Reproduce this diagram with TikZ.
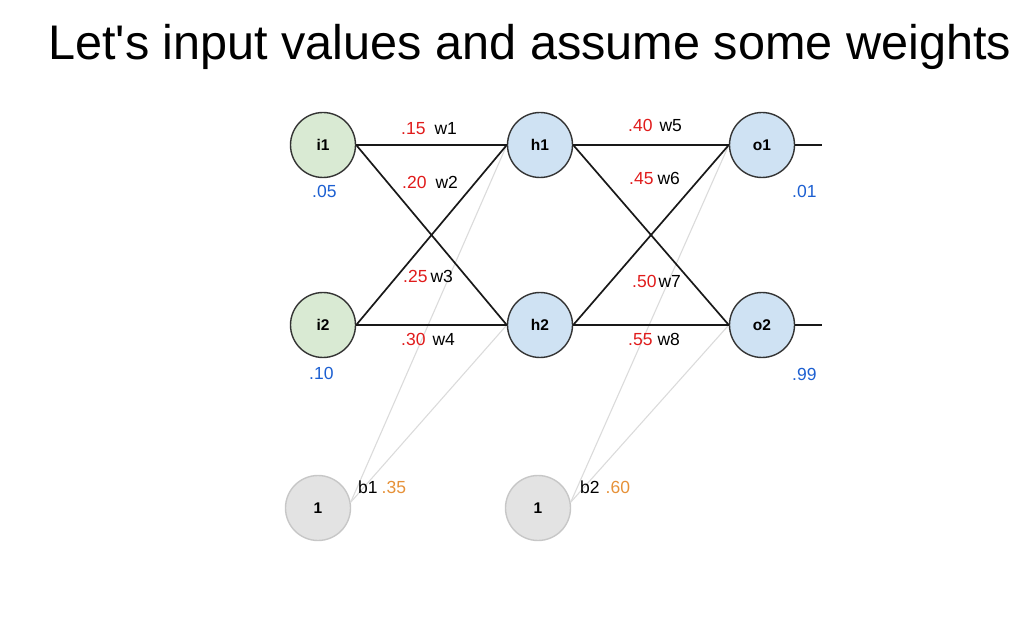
\documentclass[tikz,border=0pt]{standalone}
\usepackage{fontspec}
\setmainfont{Liberation Sans}[Ligatures=TeXOff]
\usetikzlibrary{positioning}

\definecolor{inpfill}{HTML}{D9EAD3}
\definecolor{unitfill}{HTML}{CFE2F3}
\definecolor{biasfill}{HTML}{E3E3E3}
\definecolor{wred}{HTML}{E01B1B}
\definecolor{vblue}{HTML}{1C5FD1}
\definecolor{borange}{HTML}{E69138}

\begin{document}
\begin{tikzpicture}[x=1pt,y=-1pt,
        unit/.style={circle, draw=black!80, line width=1.4pt, minimum size=65pt, inner sep=0pt, fill=unitfill, font=\fontsize{15.5}{17}\selectfont\bfseries},
        inp/.style={unit, fill=inpfill},
        biasunit/.style={unit, draw=black!22, fill=biasfill},
        wlab/.style={font=\fontsize{17.5}{19}\selectfont, inner sep=0pt, anchor=base west},
        vlab/.style={wlab, text=vblue},
        edge/.style={line width=1.7pt, black!90},
        bedge/.style={line width=1.1pt, black!14}]
        \useasboundingbox (0,0) rectangle (1021,631);
        \node[font=\fontsize{48.6}{52}\selectfont, inner sep=0pt, anchor=base west] (title) at (48,60) {Let's input values and assume some weights};
        % units
        \node[inp] (i1) at (323,145) {i1};
        \node[inp] (i2) at (323,325) {i2};
        \node[unit] (h1) at (540,145) {h1};
        \node[unit] (h2) at (540,325) {h2};
        \node[unit] (o1) at (762,145) {o1};
        \node[unit] (o2) at (762,325) {o2};
        \node[biasunit] (bone) at (318,508) {1};
        \node[biasunit] (btwo) at (538,508) {1};
        \coordinate (out1) at (822,145);
        \coordinate (out2) at (822,325);
        % bias connectors
        \foreach \b/\t in {bone/h1,bone/h2,btwo/o1,btwo/o2} \draw[bedge] (\b.10) -- (\t.west);
        % weights
        \foreach \s/\t in {i1/h1,i1/h2,i2/h1,i2/h2,h1/o1,h1/o2,h2/o1,h2/o2} \draw[edge] (\s.east) -- (\t.west);
        \draw[edge] (o1) -- (out1);
        \draw[edge] (o2) -- (out2);
        % labels
        \node[wlab] (w1) at (401,135) {\textcolor{wred}{.15}\hspace{9pt}w1};
        \node[wlab] (w2) at (402,189) {\textcolor{wred}{.20}\hspace{9pt}w2};
        \node[wlab] (w3) at (403,283) {\textcolor{wred}{.25}\hspace{3pt}w3};
        \node[wlab] (w4) at (401,345) {\textcolor{wred}{.30}\hspace{7pt}w4};
        \node[wlab] (w5) at (628,132) {\textcolor{wred}{.40}\hspace{7pt}w5};
        \node[wlab] (w6) at (629,185) {\textcolor{wred}{.45}\hspace{4pt}w6};
        \node[wlab] (w7) at (632,288) {\textcolor{wred}{.50}\hspace{2pt}w7};
        \node[wlab] (w8) at (628,345) {\textcolor{wred}{.55}\hspace{5pt}w8};
        \node[vlab] (v1) at (312,198) {.05};
        \node[vlab] (v2) at (309,379) {.10};
        \node[vlab] (v3) at (792,198) {.01};
        \node[vlab] (v4) at (792,380) {.99};
        \node[wlab] (b1) at (358,493) {b1\hspace{4pt}\textcolor{borange}{.35}};
        \node[wlab] (b2) at (580,493) {b2\hspace{6pt}\textcolor{borange}{.60}};
    \end{tikzpicture}
\end{document}
